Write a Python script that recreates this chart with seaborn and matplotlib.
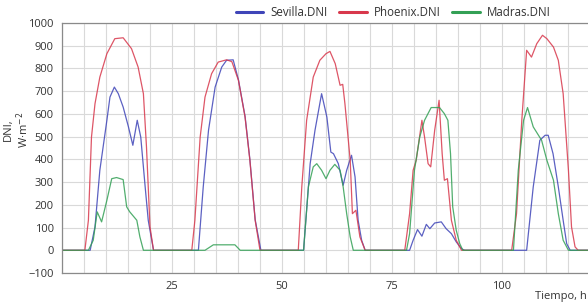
import numpy as np
import pandas as pd
import matplotlib
matplotlib.use("Agg")
import matplotlib.pyplot as plt
from matplotlib.ticker import MultipleLocator
import seaborn as sns

# ---------------- data ----------------
series_names = ["Sevilla.DNI", "Phoenix.DNI", "Madras.DNI"]

sevilla_t = [0, 6.4, 7.5, 8.6, 10.2, 10.9, 11.9, 12.8, 13.9, 15.1, 16.1, 17.1, 17.9, 18.9, 19.6, 20.8,
             31.0, 32.1, 33.3, 34.8, 36.3, 37.4, 38.9, 40.1, 41.6, 42.7, 43.9, 45.2,
             54.9, 56.4, 57.5, 59.0, 60.2, 61.1, 61.7, 62.8, 63.9, 64.7, 65.8, 66.6, 67.3, 68.1, 68.9,
             79.0, 79.8, 80.8, 81.8, 82.8, 83.6, 84.7, 86.2, 87.3, 88.5, 89.6, 90.8, 91.5,
             105.6, 107.1, 108.6, 109.8, 110.5, 111.6, 112.8, 113.9, 114.7, 115.5, 120]
sevilla_v = [0, 0, 103, 352, 572, 674, 718, 689, 630, 543, 462, 572, 498, 279, 132, 0,
             0, 279, 528, 718, 806, 836, 838, 750, 590, 400, 135, 0,
             0, 381, 528, 689, 586, 432, 425, 381, 286, 352, 418, 323, 132, 44, 0,
             0, 44, 91, 62, 114, 95, 120, 125, 95, 73, 37, 7, 0,
             0, 279, 484, 506, 506, 425, 279, 132, 29, 0, 0]

phoenix_t = [0, 5.2, 6.0, 6.7, 7.5, 8.6, 10.2, 12.0, 13.9, 15.8, 17.3, 18.5, 19.2, 20.0, 20.8,
             29.5, 30.2, 31.4, 32.5, 34.0, 35.5, 37.4, 38.6, 40.1, 41.6, 42.7, 43.9, 45.0,
             53.7, 54.5, 55.6, 57.1, 58.6, 60.0, 60.9, 62.1, 63.2, 63.8, 64.3, 65.5, 66.0, 66.8, 67.7, 68.9,
             77.9, 79.0, 79.8, 80.5, 81.8, 82.4, 83.2, 83.8, 84.7, 85.7, 86.4, 86.9, 87.6, 88.5, 89.6, 90.8,
             102.2, 103.3, 104.5, 105.6, 106.7, 107.9, 109.2, 110.2, 111.7, 112.8, 113.9, 115.1, 115.8,
             116.6, 117.3, 120]
phoenix_v = [0, 0, 132, 498, 645, 762, 865, 931, 935, 887, 806, 689, 455, 103, 0,
             0, 132, 498, 674, 777, 828, 838, 830, 748, 586, 396, 132, 0,
             0, 279, 572, 762, 836, 865, 875, 821, 726, 730, 645, 396, 161, 176, 59, 0,
             0, 161, 352, 396, 572, 498, 381, 367, 528, 660, 425, 308, 315, 132, 44, 0,
             0, 161, 572, 880, 850, 909, 946, 931, 894, 836, 689, 352, 103,
             15, 0, 0]

madras_t = [0, 6.0, 7.1, 8.0, 9.0, 10.2, 11.3, 12.4, 13.9, 14.7, 15.4, 17.0, 17.7, 18.5,
            32.5, 34.4, 39.3, 40.5,
            54.9, 56.0, 57.1, 57.9, 59.0, 60.0, 60.9, 62.0, 63.2, 63.9, 64.7, 65.5, 66.2,
            78.3, 79.0, 80.1, 81.3, 82.4, 83.9, 85.8, 86.9, 87.7, 88.3, 88.8, 89.6, 90.4, 91.1,
            102.6, 103.7, 104.9, 105.8, 107.1, 109.0, 110.2, 111.7, 112.8, 113.9, 115.1, 120]
madras_v = [0, 0, 44, 169, 125, 220, 315, 320, 311, 191, 169, 132, 59, 0,
            0, 24, 24, 0,
            0, 279, 367, 381, 352, 315, 352, 378, 352, 279, 161, 59, 0,
            0, 73, 352, 498, 572, 628, 628, 601, 572, 425, 191, 88, 29, 0,
            0, 352, 572, 628, 543, 484, 396, 308, 161, 44, 0, 0]

x_ticks = [25, 50, 75, 100]
y_ticks = list(range(-100, 1001, 100))

colors = {"Sevilla.DNI": "#3f45b8", "Phoenix.DNI": "#d8384c", "Madras.DNI": "#33a055"}

# ---------------- build long table ----------------
df = pd.concat([
    pd.DataFrame({"t": sevilla_t, "v": sevilla_v, "serie": "Sevilla.DNI"}),
    pd.DataFrame({"t": phoenix_t, "v": phoenix_v, "serie": "Phoenix.DNI"}),
    pd.DataFrame({"t": madras_t, "v": madras_v, "serie": "Madras.DNI"}),
], ignore_index=True)

sns.set_theme(style="white")
plt.rcParams["font.family"] = ["Open Sans", "DejaVu Sans"]
plt.rcParams["mathtext.fontset"] = "dejavusans"

fig = plt.figure(figsize=(5.88, 3.05), dpi=100)
ax = fig.add_axes([62 / 588, 32 / 305, 528 / 588, 250 / 305])

sns.lineplot(data=df, x="t", y="v", hue="serie", hue_order=series_names,
             palette=colors, estimator=None, sort=False, linewidth=0.9,
             alpha=0.85, ax=ax, legend=True)

ax.set_xlim(0, 120)
ax.set_ylim(-100, 1000)
ax.set_xticks(x_ticks)
ax.xaxis.set_minor_locator(MultipleLocator(5))
ax.set_yticks(y_ticks)
ax.grid(True, which="both", axis="x", color="#d9d9d9", linewidth=0.8)
ax.grid(True, which="major", axis="y", color="#d9d9d9", linewidth=0.8)
ax.set_axisbelow(True)

for side in ["left", "bottom", "top"]:
    ax.spines[side].set_visible(True)
    ax.spines[side].set_color("#8a8a8a")
    ax.spines[side].set_linewidth(0.9)
ax.spines["right"].set_visible(False)

ax.tick_params(axis="both", which="both", labelsize=8, colors="#333333",
               length=3, width=0.7, direction="out")
ax.tick_params(axis="x", which="both", color="#8a8a8a", pad=3)
ax.tick_params(axis="y", color="#8a8a8a", pad=3)
ax.tick_params(axis="x", which="minor", length=3)
for lab in ax.get_xticklabels() + ax.get_yticklabels():
    lab.set_color("#333333")

ax.set_xlabel("")
ax.set_ylabel("")

handles, labels = ax.get_legend_handles_labels()
ax.get_legend().remove()
leg = fig.legend(handles, labels, loc="center", bbox_to_anchor=(393 / 588, 1 - 13 / 305),
                 ncol=3, frameon=False, fontsize=8.3, handlelength=2.4,
                 handletextpad=0.6, columnspacing=1.0)
for line in leg.get_lines():
    line.set_linewidth(2.2)
    line.set_alpha(1)
for txt in leg.get_texts():
    txt.set_color("#333333")

fig.text(17 / 588, 1 - 130 / 305, "DNI,\nW·m$^{-2}$", rotation=90, ha="center",
         va="center", multialignment="center", fontsize=8, color="#333333",
         linespacing=1.0)
fig.text(587 / 588, 1 - 296 / 305, "Tiempo, h", ha="right", va="center",
         fontsize=8, color="#333333")

fig.savefig("out.png", dpi=100)
